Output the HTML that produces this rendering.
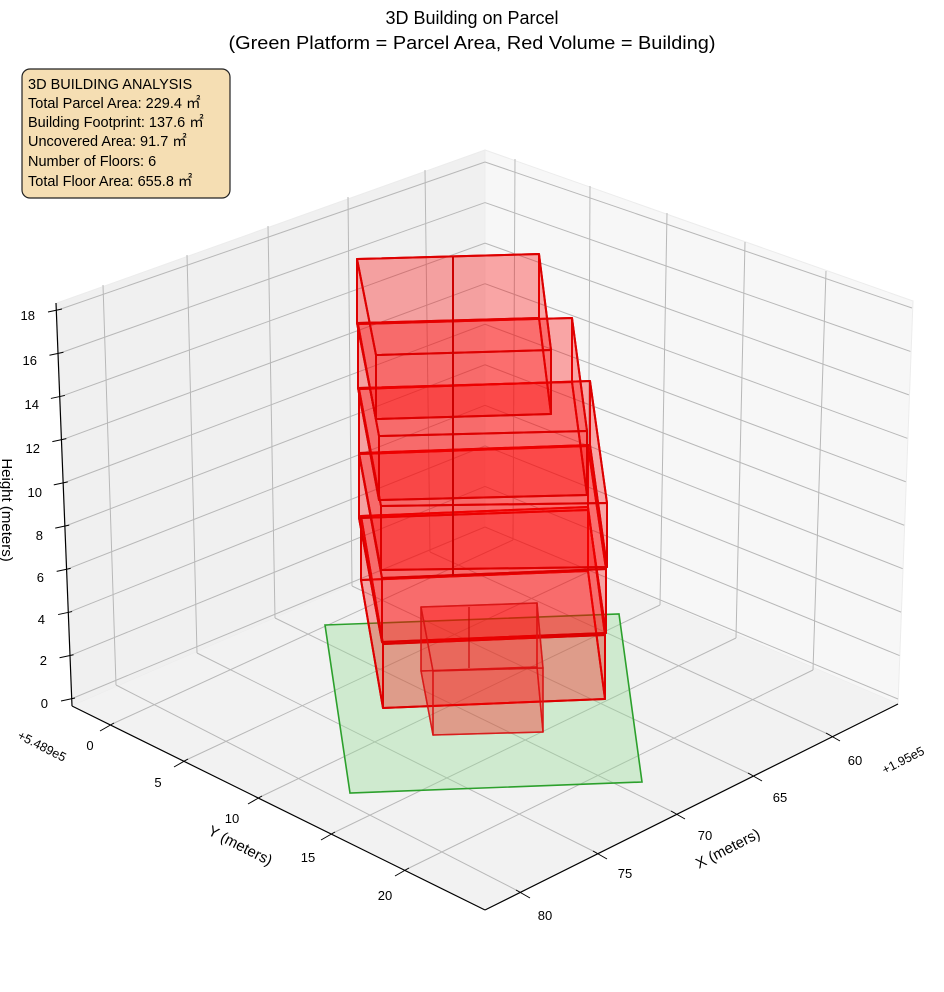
<!DOCTYPE html>
<html><head><meta charset="utf-8"><style>
html,body{margin:0;padding:0;background:#fff;}
svg{display:block;font-family:"Liberation Sans","DejaVu Sans",sans-serif;}
</style></head><body>
<svg id="s" width="944" height="992" viewBox="0 0 944 992" xmlns="http://www.w3.org/2000/svg">
<g id="bg"></g>
<g id="fg"></g>
<text x="472" y="24" text-anchor="middle" font-size="18" fill="#000">3D Building on Parcel</text>
<text x="472" y="49" text-anchor="middle" font-size="18" fill="#000" textLength="487" lengthAdjust="spacingAndGlyphs">(Green Platform = Parcel Area, Red Volume = Building)</text>
<rect x="22" y="69" width="208" height="129" rx="8" ry="8" fill="#f5deb3" stroke="#222" stroke-width="1.2"/>
<g font-size="14.5" fill="#000">
<text x="28" y="89">3D BUILDING ANALYSIS</text>
<text x="28" y="108">Total Parcel Area: 229.4 ㎡</text>
<text x="28" y="127">Building Footprint: 137.6 ㎡</text>
<text x="28" y="146">Uncovered Area: 91.7 ㎡</text>
<text x="28" y="166">Number of Floors: 6</text>
<text x="28" y="186">Total Floor Area: 655.8 ㎡</text>
</g>
<g font-size="13" fill="#000" text-anchor="end">
<text x="35" y="320">18</text>
<text x="37" y="365">16</text>
<text x="39" y="409">14</text>
<text x="40" y="453">12</text>
<text x="42" y="497">10</text>
<text x="43" y="540">8</text>
<text x="44" y="582">6</text>
<text x="45" y="624">4</text>
<text x="47" y="665">2</text>
<text x="48" y="708">0</text>
</g>
<g font-size="13" fill="#000" text-anchor="middle">
<text x="90" y="750">0</text>
<text x="158" y="787">5</text>
<text x="232" y="823">10</text>
<text x="308" y="862">15</text>
<text x="385" y="900">20</text>
<text x="855" y="765">60</text>
<text x="780" y="802">65</text>
<text x="705" y="840">70</text>
<text x="625" y="878">75</text>
<text x="545" y="920">80</text>
</g>
<text transform="translate(40,750) rotate(27)" font-size="12.5" text-anchor="middle">+5.489e5</text>
<text transform="translate(905,764) rotate(-27)" font-size="12.5" text-anchor="middle">+1.95e5</text>
<text transform="translate(238,850) rotate(27)" font-size="15" text-anchor="middle">Y (meters)</text>
<text transform="translate(730,853) rotate(-27)" font-size="15" text-anchor="middle">X (meters)</text>
<text transform="translate(2,510) rotate(90)" font-size="15" text-anchor="middle">Height (meters)</text>
</svg>
<script>
(function(){
var NS="http://www.w3.org/2000/svg";
var bg=document.getElementById('bg'), fg=document.getElementById('fg');
function el(p,t,a){var e=document.createElementNS(NS,t);for(var k in a)e.setAttribute(k,a[k]);p.appendChild(e);return e;}
function poly(p,pts,a){a.points=pts.map(function(q){return q[0]+','+q[1]}).join(' ');return el(p,'polygon',a);}
function line(p,a,b,st,w){el(p,'line',{x1:a[0],y1:a[1],x2:b[0],y2:b[1],stroke:st,'stroke-width':w});}
var L=[72,706],B=[485,527],R=[898,704],F=[485,910],LT=[57,303],BT=[485,150],RT=[913,301];
poly(bg,[L,B,BT,LT],{fill:'#f0f0f0',stroke:'#ececec'});
poly(bg,[B,R,RT,BT],{fill:'#f7f7f7',stroke:'#ececec'});
poly(bg,[L,B,R,F],{fill:'#f2f2f2',stroke:'none'});
var g='#b8b8b8';
for(var z=0;z<=18;z+=2){
 var yl=699-z*(389/18), xl=71-13*z/18;
 var yb=527-z*(365/18);
 var yr=699-z*(391/18), xr=898+14*z/18;
 line(bg,[xl,yl],[485,yb],g,1);
 line(bg,[485,yb],[xr,yr],g,1);
}
var lt=[[425,170],[348,197],[268,226],[187,255],[103,285]];
var lb=[[430,552],[352,586],[275,618],[197,653],[116,685]];
var xe=[[830,735],[752,775],[675,813],[597,853],[520,892]];
for(var i=0;i<5;i++){line(bg,lt[i],lb[i],g,1);line(bg,lb[i],xe[i],g,1);}
var rt=[[515,159],[590,186],[667,213],[745,242],[826,271]];
var rb=[[513,540],[588,572],[660,605],[736,638],[813,670]];
var ye=[[110,725],[184,761],[258,798],[331,834],[405,870]];
for(var i=0;i<5;i++){line(bg,rt[i],rb[i],g,1);line(bg,rb[i],ye[i],g,1);}
line(bg,L,F,'#000',1.2);line(bg,F,R,'#000',1.2);line(bg,L,[56,303],'#000',1.2);
for(var z=0;z<=18;z+=2){var yl=699-z*(389/18), xl=71-13*z/18;line(bg,[xl-10,yl+2],[xl+4,yl-1],'#000',1);}
for(var i=0;i<5;i++){var p=ye[i];line(bg,[p[0]-10,p[1]+6],[p[0]+4,p[1]-2],'#000',1);
 var q=xe[i];line(bg,[q[0]-4,q[1]-2],[q[0]+10,q[1]+6],'#000',1);}
poly(fg,[[325,625],[619,614],[642,782],[350,793]],{fill:'rgba(150,220,150,0.38)',stroke:'#2ca02c','stroke-width':1.6});
function box(t,h,st,sw,fa){
 var BL=t[0],BR=t[1],FR=t[2],FL=t[3];
 function d(p){return [p[0],p[1]+h];}
 var faces=[[BL,BR,d(BR),d(BL)],[BL,FL,d(FL),d(BL)],[BR,FR,d(FR),d(BR)],[d(BL),d(BR),d(FR),d(FL)],[FL,FR,d(FR),d(FL)],[BL,BR,FR,FL]];
 faces.forEach(function(f){poly(fg,f,{fill:'rgba(255,0,0,'+fa+')',stroke:st,'stroke-width':sw,'stroke-linejoin':'round'});});
}
var boxes=[
 [[[361,516],[588,507],[605,635],[383,644]],64],
 [[[359,454],[588,446],[606,569],[382,578]],64],
 [[[359,389],[590,381],[607,503],[381,506]],64],
 [[[358,324],[572,318],[587,431],[379,436]],64],
 [[[357,259],[539,254],[551,350],[376,355]],64]
];
boxes.forEach(function(b){box(b[0],b[1],'#dd0000',2,0.18);});
line(fg,[453,257],[453,576],'#cc0000',2);
box([[421,607],[537,603],[543,668],[433,671]],64,'rgba(215,20,20,0.75)',1.5,0.18);
line(fg,[469,607],[469,668],'rgba(200,0,0,0.7)',1.5);
})();
</script>
</body></html>
